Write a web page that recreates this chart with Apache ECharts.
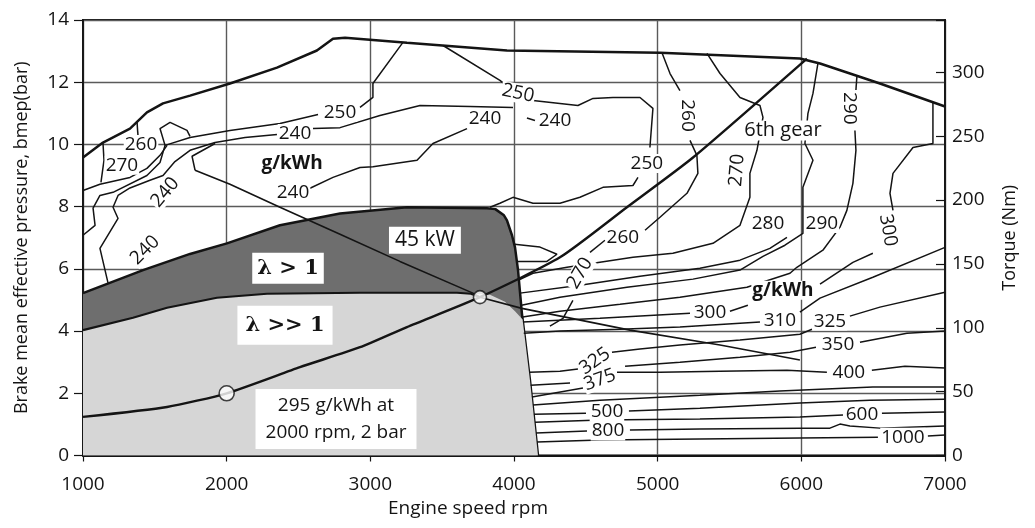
<!DOCTYPE html>
<html>
<head>
<meta charset="utf-8">
<script src="https://cdn.jsdelivr.net/npm/echarts@6/dist/echarts.min.js"></script>
<style>
  html, body { margin: 0; padding: 0; background: #fff; }
  #chart { width: 1035px; height: 528px; }
</style>
</head>
<body>
<div id="chart"></div>
<script>
// ---- axes ----
const speedRange = [1000, 7000];          // rpm
const bmepRange = [0, 14];                // bar
const torqueMax = 341;                    // Nm at 14 bar
const speedStep = 1000, bmepStep = 2, torqueStep = 50;

// ---- operating envelope (rpm, bar) ----
const fullLoad = [[1000,9.58],[1139,10.06],[1327,10.51],[1445,11.03],[1557,11.32],[1745,11.57],[2023,11.96],[2350,12.47],[2628,13.02],[2740,13.40],[2824,13.43],[3255,13.27],[3951,13.02],[5016,12.95],[5990,12.76],[6130,12.60],[6547,11.96],[7000,11.22]];
const leanZone = [[1000,5.22],[1418,5.96],[1745,6.48],[2002,6.82],[2371,7.40],[2789,7.78],[3255,7.98],[3812,7.95],[3870,7.92],[3930,7.72],[3951,7.56],[3986,7.08],[4007,6.69],[4028,5.96],[4055,4.57],[4111,2.42],[4167,0]];
const ultraLeanZone = [[1000,4.03],[1348,4.43],[1585,4.75],[1932,5.07],[2281,5.20],[2928,5.23],[3603,5.23],[3833,5.17],[3937,4.94],[4007,4.64],[4060,4.37],[4111,2.42],[4167,0]];
const ultraLeanLimit = [[1000,4.03],[1348,4.43],[1585,4.75],[1932,5.07],[2281,5.20],[2928,5.23],[3603,5.23],[3700,5.20],[3763,5.09]];
const sixthGear = [[1000,1.24],[1585,1.56],[2000,2.0],[2510,2.84],[2928,3.48],[3255,4.13],[3763,5.09],[4320,6.37],[4786,7.98],[5246,9.58],[6039,12.76]];
const power45kW = [[1780,9.17],[2023,8.72],[2371,7.98],[2789,7.11],[3206,6.24],[3714,5.22],[3763,5.09],[4055,4.73],[4807,4.03],[5434,3.55],[5990,3.07]];
const markedPoints = [[2000,2.0],[3763,5.09]];

// ---- BSFC contours, g/kWh (each is a list of segments) ----
const bsfc240Left = [
  [[1174,5.55],[1118,6.66],[1244,7.62],[1209,7.98],[1244,8.36],[1327,8.60],[1466,8.85],[1557,9.00],[1640,9.45],[1745,9.81],[1919,10.06],[2128,10.22],[2350,10.32]],
  [[2601,10.51],[2789,10.54],[3067,10.93],[3346,11.25],[3694,11.22],[3993,11.19]],
  [[1919,10.03],[1759,9.62],[1780,9.17]],
  [[2580,8.59],[2740,8.94],[2928,9.26],[3018,9.28],[3325,9.49],[3436,10.03],[3673,10.51]],
  [[4090,10.85],[4146,10.77]]
];
const bsfc250Left = [
  [[1000,7.08],[1084,7.40],[1070,7.95],[1118,8.36],[1209,8.46],[1445,9.0],[1536,9.42],[1571,9.97],[1745,10.22],[2023,10.45],[2371,10.67],[2636,10.96]],
  [[2928,11.19],[3018,11.51],[3018,11.96],[3227,13.28]]
];
const bsfc260Left = [
  [[1376,10.73],[1383,10.26]],
  [[1571,9.97],[1536,10.51],[1606,10.71],[1724,10.45],[1745,10.26]]
];
const bsfc270Left = [
  [[1000,8.52],[1118,8.72],[1327,8.94],[1445,9.23],[1536,9.65],[1585,9.97]],
  [[1139,10.06],[1146,9.49],[1125,8.78]]
];
const bsfc250Right = [
  [[3506,13.18],[3902,12.06],[3972,11.80]],
  [[4132,11.41],[4445,11.25],[4550,11.48],[4689,11.51],[4877,11.51],[4967,11.16],[4946,9.90]],
  [[4863,8.94],[4828,8.68],[4619,8.62],[4459,8.30],[4320,8.11],[4132,8.11],[3993,8.30],[3902,8.11],[3833,7.98]]
];
const bsfc240Island = [
  [[4003,6.79],[4181,6.70],[4299,6.47],[4229,6.24],[4020,6.24]]
];
const bsfc260Right = [
  [[5030,12.95],[5086,12.28],[5155,11.73]],
  [[5225,10.13],[5273,9.65],[5280,9.07],[5204,8.43],[5016,7.66],[4912,7.24]],
  [[4633,6.92],[4529,6.53]],
  [[4410,4.99],[4341,4.41],[4250,4.16]]
];
const bsfc270Right = [
  [[5343,12.93],[5434,12.28],[5573,11.51],[5712,11.25],[5733,10.87],[5691,9.81],[5642,9.07],[5642,8.30],[5573,7.40],[5385,6.82],[5106,6.50],[4828,6.37],[4598,6.21],[4369,6.05],[4132,5.86],[4028,5.63]]
];
const bsfc280 = [
  [[5900,7.01],[5781,6.66],[5573,6.28],[5294,6.02],[4877,5.76],[4459,5.47],[4042,5.22]]
];
const bsfc290Left = [
  [[6116,12.62],[6081,11.64],[6046,11.0],[6025,10.03],[6081,9.49],[6011,8.62],[6011,7.88],[6011,7.14],[5886,6.76],[5733,6.40],[5573,5.96],[5246,5.67],[4786,5.41],[4320,5.09],[4052,4.83]]
];
const bsfc290Right = [
  [[6387,12.20],[6380,11.75]],
  [[6373,10.45],[6380,9.81],[6359,8.75],[6317,7.88],[6269,7.34],[6150,6.60],[5969,6.05],[5921,5.86],[5621,5.41],[5155,5.09],[4738,4.86],[4320,4.64],[4060,4.45]]
];
const bsfc300 = [
  [[4062,4.29],[4598,4.41],[5225,4.57]],
  [[5503,4.64],[5628,4.83]],
  [[6130,5.51],[6359,6.21],[6498,6.50]],
  [[6638,7.88],[6617,8.43],[6638,9.07],[6777,9.90],[6916,10.03],[6916,11.36]]
];
const bsfc310 = [
  [[4068,3.93],[4320,4.00],[4738,4.06],[5155,4.13],[5573,4.25],[5712,4.29]],
  [[5990,4.61],[6130,5.06],[6498,5.73],[7000,6.69]]
];
const bsfc325 = [
  [[4105,2.68],[4320,2.71],[4445,2.78]],
  [[4682,3.32],[4877,3.42],[5155,3.55],[5573,3.71],[5990,3.90],[6074,4.06]],
  [[6338,4.48],[6547,4.77],[7000,5.25]]
];
const bsfc350 = [
  [[4116,2.26],[4390,2.33]],
  [[4773,2.87],[5155,3.00],[5573,3.16],[5921,3.32],[6102,3.48]],
  [[6408,3.64],[6735,3.93],[7000,4.00]]
];
const bsfc375 = [
  [[4125,1.88],[4480,2.17]],
  [[4717,2.68],[5016,2.68],[5434,2.71],[5900,2.74],[6178,2.68]],
  [[6491,2.74],[6721,2.87],[7000,2.81]]
];
const bsfc450 = [
  [[4132,1.62],[4598,1.78],[5294,1.94],[5851,2.07],[6498,2.20],[7000,2.20]]
];
const bsfc500 = [
  [[4139,1.33],[4501,1.36]],
  [[4800,1.43],[5294,1.52],[5990,1.69],[6477,1.78],[7000,1.81]]
];
const bsfc600 = [
  [[4146,1.07],[4598,1.14],[5294,1.17],[5990,1.24],[6290,1.30]],
  [[6561,1.36],[7000,1.40]]
];
const bsfc800 = [
  [[4153,0.72],[4508,0.79]],
  [[4807,0.82],[5294,0.85],[5990,0.88],[6199,0.88],[6269,1.01],[6338,0.95],[6547,0.88],[7000,0.95]]
];
const bsfc1000 = [
  [[4160,0.43],[4598,0.50],[5294,0.53],[5990,0.56],[6533,0.59]],
  [[6881,0.63],[7000,0.66]]
];

// ---- contour labels: rpm, bar, text ----
const contourLabels = [
  [2789,11.03,'250'],[2476,10.35,'240'],[1404,10.00,'260'],[1271,9.33,'270'],
  [1571,8.46,'240'],[1432,6.60,'240'],[2462,8.46,'240'],[4028,11.64,'250'],
  [3798,10.83,'240'],[4285,10.77,'240'],[4925,9.39,'250'],[5204,10.93,'260'],
  [4758,7.01,'260'],[4459,5.86,'270'],[5552,9.17,'270'],[6338,11.16,'290'],
  [5768,7.46,'280'],[6143,7.46,'290'],[6603,7.24,'300'],[5364,4.61,'300'],
  [5851,4.35,'310'],[6199,4.32,'325'],[4563,3.03,'325'],[4598,2.43,'375'],
  [6255,3.55,'350'],[6331,2.68,'400'],[4647,1.40,'500'],[6422,1.33,'600'],
  [4654,0.79,'800'],[6707,0.59,'1000']
];
const contourLabelAngles = [0,0,0,0, 50,45,0,-12, 0,0,0,-90, 0,60,85,-90, 0,0,-80,0, 0,0,35,20, 0,0,0,0, 0,0];
const unitLabels = [[2455,9.39,'g/kWh'],[5872,5.31,'g/kWh'],[5872,10.45,'6th gear']];
const boxLabels = [[3380,6.92,'45 kW'],[2427,6.02,'λ > 1'],[2406,4.19,'λ >> 1'],[2761,1.17,'295 g/kWh at\n2000 rpm, 2 bar']];

// ---- styling ----
const FONT = '"Open Sans", "Noto Sans", "DejaVu Sans", sans-serif';
const INK = '#141414';

const chart = echarts.init(document.getElementById('chart'), null, { renderer: 'canvas' });

function lineSeries(points, width, z, extra) {
  return Object.assign({
    type: 'line', data: points, showSymbol: false, symbol: 'none', silent: true,
    animation: false, z: z, lineStyle: { color: INK, width: width }
  }, extra || {});
}

const contourSets = [bsfc240Left, bsfc250Left, bsfc260Left, bsfc270Left, bsfc250Right, bsfc240Island,
  bsfc260Right, bsfc270Right, bsfc280, bsfc290Left, bsfc290Right, bsfc300, bsfc310, bsfc325,
  bsfc350, bsfc375, bsfc450, bsfc500, bsfc600, bsfc800, bsfc1000];

const series = [];
series.push(lineSeries(leanZone, 2.5, 1, { areaStyle: { color: '#6e6e6e', opacity: 1 } }));
series.push(lineSeries(ultraLeanZone, 0, 2, { lineStyle: { width: 0, opacity: 0 }, areaStyle: { color: '#d6d6d6', opacity: 1 } }));
contourSets.forEach(set => set.forEach(seg => series.push(lineSeries(seg, 1.5, 3))));
series.push(lineSeries(power45kW, 1.6, 4));
series.push(lineSeries(ultraLeanLimit, 2.1, 4));
series.push(lineSeries(sixthGear, 2.4, 4, { smooth: 0.2 }));
series.push(lineSeries(fullLoad, 2.5, 4));

function textItem(x, y, text, opts) {
  const style = Object.assign({
    text: text, fill: INK, fontFamily: FONT, fontSize: 19, fontWeight: 'normal',
    align: 'center', verticalAlign: 'middle', textAlign: 'center', textVerticalAlign: 'middle',
    backgroundColor: '#fff', padding: [0, 1], legacy: false
  }, opts.style || {});
  return { type: 'text', x: x, y: y, rotation: opts.rotation || 0, style: style };
}

function labelSeries(rows, styler, z) {
  return {
    type: 'custom', coordinateSystem: 'cartesian2d', silent: true, animation: false, clip: false, z: z,
    data: rows.map((r, i) => [r[0], r[1], i]),
    renderItem: function (params, api) {
      const i = api.value(2);
      const p = api.coord([api.value(0), api.value(1)]);
      return textItem(p[0], p[1], rows[i][2], styler(i));
    }
  };
}

series.push(labelSeries(contourLabels, i => ({ rotation: contourLabelAngles[i] * Math.PI / 180 }), 6));
series.push(labelSeries(unitLabels, i => ({ style: { fontWeight: i < 2 ? 'bold' : 'normal', fontSize: i < 2 ? 19 : 20 } }), 6));
series.push(labelSeries(boxLabels, i => {
  if (i === 1 || i === 2) return { style: { fontFamily: '"DejaVu Serif", serif', fontWeight: 'bold', fontSize: 21, padding: i === 1 ? [5, 5] : [9, 8] } };
  if (i === 3) return { style: { fontSize: 19, lineHeight: 27, padding: [3, 10] } };
  return { style: { fontSize: 21, padding: [3, 6] } };
}, 7));

series.push({
  type: 'scatter', data: markedPoints, silent: true, animation: false, z: 8,
  symbol: 'circle', symbolSize: (v, p) => (p.dataIndex === 0 ? 15 : 13),
  itemStyle: { color: '#fff', borderColor: INK, borderWidth: 1.6 }
});

const tickText = { fontFamily: FONT, fontSize: 19, color: INK };
const plainNumber = v => String(v);

chart.setOption({
  animation: false,
  backgroundColor: '#fff',
  grid: { left: 83, right: 90, top: 20, bottom: 72.5, show: true, borderColor: INK, borderWidth: 1.8, backgroundColor: 'transparent' },
  xAxis: {
    type: 'value', min: speedRange[0], max: speedRange[1], interval: speedStep,
    name: 'Engine speed rpm', nameLocation: 'middle', nameGap: 44,
    nameTextStyle: { fontFamily: FONT, fontSize: 19, color: INK, padding: [0, 92, 0, 0] },
    axisLine: { show: true, lineStyle: { color: INK, width: 1.8 } },
    axisTick: { show: true, length: 6, lineStyle: { color: INK, width: 1.2 } },
    axisLabel: Object.assign({ margin: 20, formatter: plainNumber }, tickText),
    splitLine: { show: true, lineStyle: { color: '#5a5a5a', width: 1.4 } }
  },
  yAxis: [{
    type: 'value', min: bmepRange[0], max: bmepRange[1], interval: bmepStep, position: 'left',
    name: 'Brake mean effective pressure, bmep(bar)', nameLocation: 'middle', nameGap: 52,
    nameTextStyle: { fontFamily: FONT, fontSize: 18, color: INK },
    axisLine: { show: true, lineStyle: { color: INK, width: 1.8 } },
    axisTick: { show: true, length: 9, lineStyle: { color: INK, width: 1.2 } },
    axisLabel: Object.assign({ margin: 14, formatter: plainNumber }, tickText),
    splitLine: { show: true, lineStyle: { color: '#5a5a5a', width: 1.4 } }
  }, {
    type: 'value', min: 0, max: torqueMax, interval: torqueStep, position: 'right',
    name: 'Torque (Nm)', nameLocation: 'middle', nameGap: 56,
    nameTextStyle: { fontFamily: FONT, fontSize: 18, color: INK },
    axisLine: { show: true, lineStyle: { color: INK, width: 1.8 } },
    axisTick: { show: true, inside: true, length: 9, lineStyle: { color: INK, width: 1.2 } },
    axisLabel: Object.assign({ margin: 7, formatter: v => (v % torqueStep === 0 ? String(v) : '') }, tickText),
    splitLine: { show: false }
  }],
  series: series
});
</script>
</body>
</html>
